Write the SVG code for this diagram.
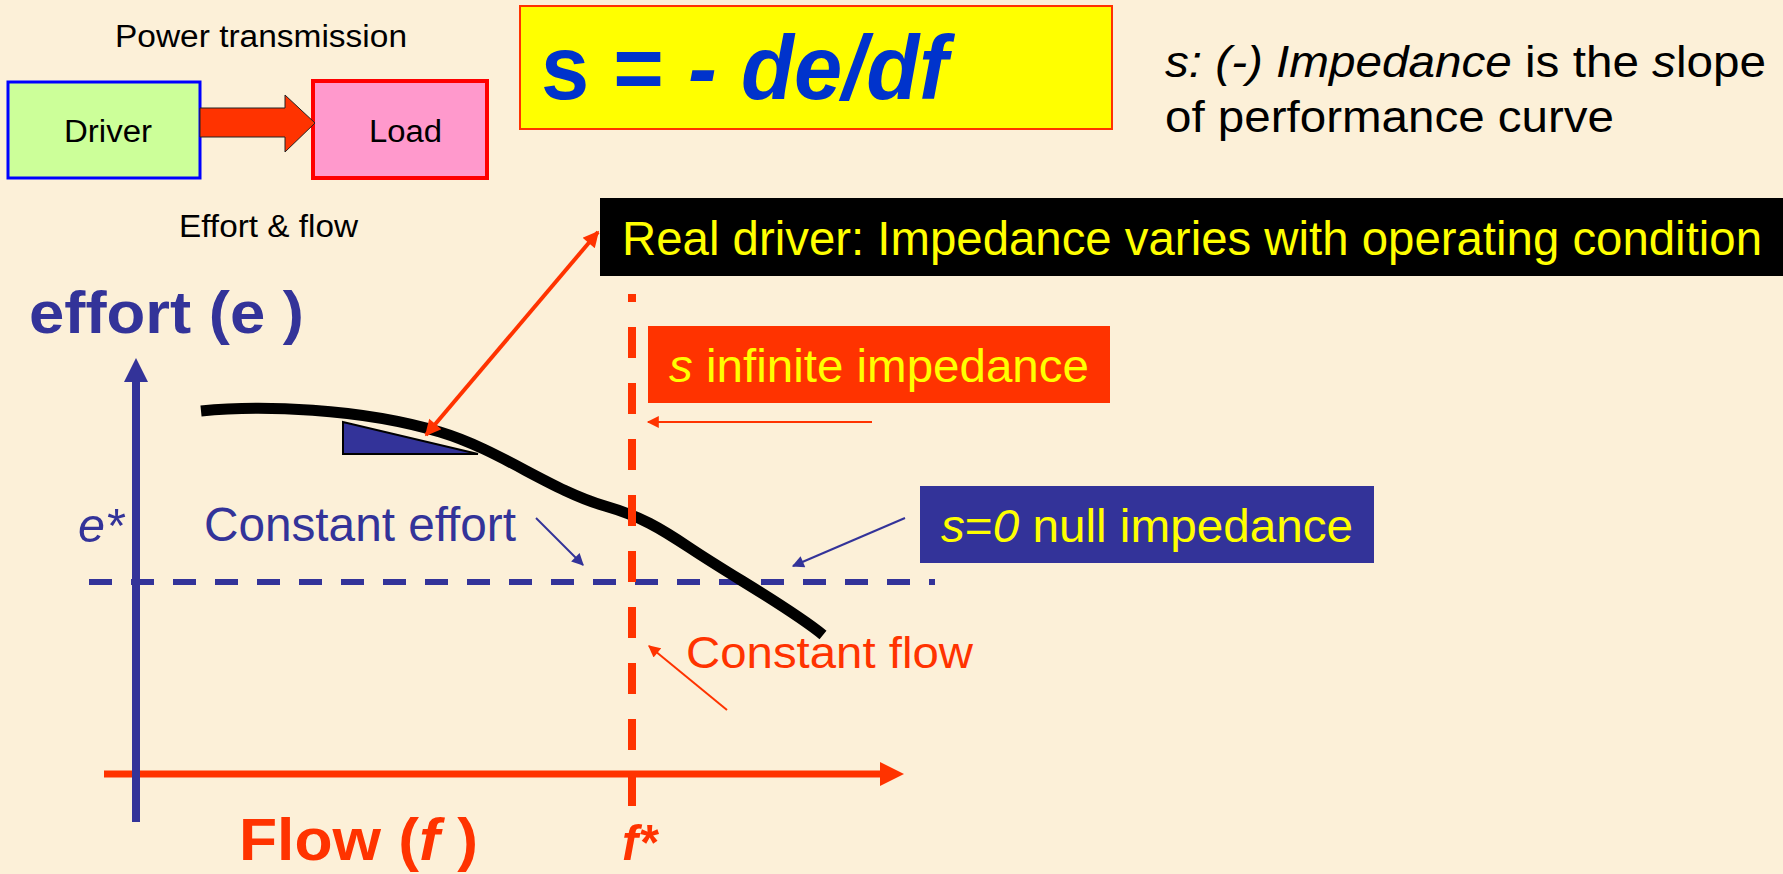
<svg xmlns="http://www.w3.org/2000/svg" width="1783" height="874" viewBox="0 0 1783 874">
<style>
text{font-family:"Liberation Sans",Arial,sans-serif}
.blk{fill:#000}
.blu{fill:#333399}
.red{fill:#ff3300}
.yel{fill:#ffff00}
.it{font-style:italic}
.b{font-weight:bold}
</style>
<defs>
<marker id="hRed" viewBox="0 0 10 10" refX="9" refY="5" markerWidth="5" markerHeight="4" orient="auto-start-reverse" markerUnits="strokeWidth"><path d="M0,0 L10,5 L0,10 z" fill="#ff3300"/></marker>
<marker id="sRed" viewBox="0 0 10 10" refX="9" refY="5" markerWidth="7" markerHeight="6" orient="auto" markerUnits="strokeWidth"><path d="M0,0 L10,5 L0,10 z" fill="#ff3300"/></marker>
<marker id="sBlu" viewBox="0 0 10 10" refX="9" refY="5" markerWidth="7" markerHeight="6" orient="auto" markerUnits="strokeWidth"><path d="M0,0 L10,5 L0,10 z" fill="#333399"/></marker>
</defs>
<rect x="0" y="0" width="1783" height="874" fill="#fcf0d8"/>

<g id="power-title"><text x="115" y="47" font-size="31" textLength="292" lengthAdjust="spacingAndGlyphs" class="blk">Power transmission</text></g>
<g id="driver"><rect x="8" y="82" width="192" height="96" fill="#ccff99" stroke="#0000ff" stroke-width="3"/><text x="64" y="142" font-size="31" textLength="88" lengthAdjust="spacingAndGlyphs" class="blk">Driver</text></g>
<g id="load"><rect x="313" y="81" width="174" height="97" fill="#ff99cc" stroke="#ff0000" stroke-width="4"/><text x="369" y="142" font-size="31" textLength="73" lengthAdjust="spacingAndGlyphs" class="blk">Load</text></g>
<g id="effort-flow-label"><text x="179" y="237" font-size="31" textLength="179" lengthAdjust="spacingAndGlyphs" class="blk">Effort &amp; flow</text></g>

<g id="formula"><rect x="520" y="6" width="592" height="123" fill="#ffff00" stroke="#ff3300" stroke-width="2"/><text x="541" y="99" font-size="90" font-weight="bold" fill="#0033cc" textLength="407" lengthAdjust="spacingAndGlyphs">s = <tspan class="it">- de/df</tspan></text></g>

<g id="definition"><text x="1165" y="77" font-size="44" textLength="601" lengthAdjust="spacingAndGlyphs" class="blk"><tspan class="it">s: (-) Impedance</tspan> is the <tspan class="it">s</tspan>lope</text><text x="1165" y="132" font-size="44" textLength="449" lengthAdjust="spacingAndGlyphs" class="blk">of performance curve</text></g>

<g id="real-driver"><rect x="600" y="198" width="1183" height="78" fill="#000"/><text x="622" y="255" font-size="48" textLength="1140" lengthAdjust="spacingAndGlyphs" class="yel">Real driver: Impedance varies with operating condition</text></g>

<g id="effort-axis-label"><text x="29" y="333" font-size="60" font-weight="bold" textLength="275" lengthAdjust="spacingAndGlyphs" class="blu">effort (e )</text></g>

<g id="infinite"><rect x="648" y="326" width="462" height="77" fill="#ff3300"/><text x="669" y="382" font-size="47" textLength="420" lengthAdjust="spacingAndGlyphs" class="yel"><tspan class="it">s</tspan> infinite impedance</text></g>

<g id="null"><rect x="920" y="486" width="454" height="77" fill="#333399"/><text x="941" y="542" font-size="47" textLength="412" lengthAdjust="spacingAndGlyphs" class="yel"><tspan class="it">s</tspan>=<tspan class="it">0</tspan> null impedance</text></g>

<g id="e-star"><text x="78" y="542" font-size="48" font-style="italic" textLength="46" lengthAdjust="spacingAndGlyphs" class="blu">e*</text></g>
<g id="constant-effort"><text x="204" y="541" font-size="48" textLength="312" lengthAdjust="spacingAndGlyphs" class="blu">Constant effort</text></g>
<g id="constant-flow"><text x="686" y="668" font-size="44" textLength="287" lengthAdjust="spacingAndGlyphs" class="red">Constant flow</text></g>
<g id="flow-axis-label"><text x="239" y="860" font-size="60" font-weight="bold" textLength="239" lengthAdjust="spacingAndGlyphs" class="red">Flow (<tspan class="it">f</tspan> )</text></g>
<g id="f-star"><text x="622" y="860" font-size="50" font-weight="bold" font-style="italic" textLength="35" lengthAdjust="spacingAndGlyphs" class="red">f*</text></g>

<g id="slope-triangle"><polygon points="343,422 343,454 478,454" fill="#333399" stroke="#000" stroke-width="2"/></g>

<g id="connectors">
<polygon points="200,108 285,108 285,95 315,123 285,152 285,137 200,137" fill="#ff3300" stroke="#222" stroke-width="1"/>
<line x1="89" y1="582" x2="935" y2="582" stroke="#333399" stroke-width="6" stroke-dasharray="23 19"/>
<path d="M201,411 C260,405 360,408 440,432 C500,450 550,490 605,506 C640,516 660,528 690,548 C735,578 790,608 823,635" fill="none" stroke="#000" stroke-width="11"/>
<line x1="632" y1="294" x2="632" y2="807" stroke="#ff3300" stroke-width="8" stroke-dasharray="31 25" stroke-dashoffset="23"/>
<line x1="104" y1="774" x2="882" y2="774" stroke="#ff3300" stroke-width="7"/>
<polygon points="904,774 880,762 880,786" fill="#ff3300"/>
<line x1="136" y1="822" x2="136" y2="378" stroke="#333399" stroke-width="8"/>
<polygon points="136,358 124,382 148,382" fill="#333399"/>
<line x1="598" y1="232" x2="426" y2="435" stroke="#ff3300" stroke-width="4" marker-start="url(#hRed)" marker-end="url(#hRed)"/>
<line x1="536" y1="518" x2="583" y2="565" stroke="#333399" stroke-width="2" marker-end="url(#sBlu)"/>
<line x1="872" y1="422" x2="648" y2="422" stroke="#ff3300" stroke-width="2" marker-end="url(#sRed)"/>
<line x1="905" y1="518" x2="793" y2="566" stroke="#333399" stroke-width="2" marker-end="url(#sBlu)"/>
<line x1="727" y1="710" x2="649" y2="646" stroke="#ff3300" stroke-width="2" marker-end="url(#sRed)"/>
</g>
</svg>
